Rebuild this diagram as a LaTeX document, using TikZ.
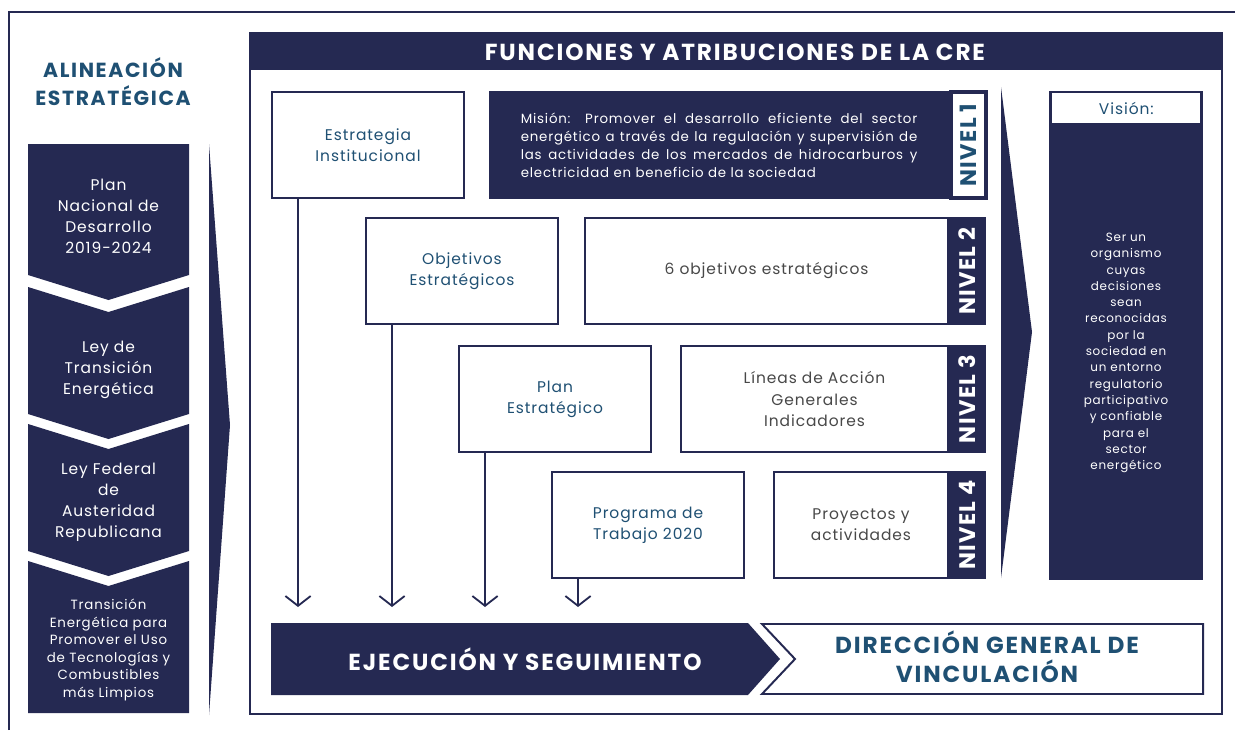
\documentclass[tikz,border=0pt]{standalone}
\usepackage{fontspec}
\setmainfont{Poppins}[LetterSpace=6]
\newfontfamily\headfont{Poppins}[LetterSpace=8]
\usetikzlibrary{arrows.meta}
\definecolor{crenavy}{RGB}{37,41,82}
\definecolor{creteal}{RGB}{31,80,115}
\definecolor{cregray}{RGB}{72,72,72}

\begin{document}
\begin{tikzpicture}[x=0.025cm,y=-0.025cm,
  box/.style={draw=crenavy,line width=1.4pt,fill=white,minimum width=4.8cm,
    minimum height=2.65cm,inner sep=0pt,anchor=north west,align=center},
  keybox/.style={box,text=creteal,font=\fontsize{11}{15}\selectfont},
  infobox/.style={box,text=cregray,font=\fontsize{11}{15}\selectfont,minimum width=#1},
  nivel/.style={rotate=90,anchor=north,minimum width=2.65cm,minimum height=0.875cm,
    inner sep=0pt,fill=crenavy,draw=crenavy,line width=1.4pt,text=white,
    font=\bfseries\fontsize{16}{16}\selectfont},
  chev/.style={text=white,align=center,font=\fontsize{11}{15}\selectfont},
  flow/.style={crenavy,line width=1.3pt,-{Straight Barb[length=7pt,width=18pt]}}]
  \useasboundingbox (0,0) rectangle (1235,730);
  \draw[crenavy,line width=1.2pt]
  (9,730) -- (9,12) -- (1235,12);
  \node[text=creteal,align=center,font=\headfont\bfseries\fontsize{14.5}{20}\selectfont]
  (alin) at (113,82) {ALINEACIÓN\\ESTRATÉGICA};
  \fill[crenavy]
  (28,144) -- (189,144) -- (189,275) -- (108.5,300) -- (28,275) -- cycle
  (28,287) -- (108.5,312) -- (189,287) -- (189,414) -- (108.5,439) -- (28,414) -- cycle
  (28,424) -- (108.5,449) -- (189,424) -- (189,551) -- (108.5,576) -- (28,551) -- cycle
  (28,561) -- (108.5,586) -- (189,561) -- (189,713) -- (28,713) -- cycle;
  \node[chev] (pnd) at (108.5,216) {Plan\\Nacional de\\Desarrollo\\2019-2024};
  \node[chev] (lte) at (108.5,370) {Ley de\\Transición\\Energética};
  \node[chev] (lfar) at (108.5,502) {Ley Federal\\de\\Austeridad\\Republicana};
  \node[chev,font=\fontsize{9.5}{12.4}\selectfont] (tepu) at (108.5,650)
  {Transición\\Energética para\\Promover el Uso\\de Tecnologías y\\Combustibles\\más Limpios};
  \fill[crenavy]
  (209,144) -- (230,425) -- (209,715) -- cycle;
  \draw[crenavy,line width=1.5pt]
  (250,33) rectangle (1222,714);
  \fill[crenavy]
  (250,33) rectangle (1222,70);
  \node[text=white,font=\headfont\bfseries\fontsize{16.5}{16.5}\selectfont]
  (func) at (735,52) {FUNCIONES Y ATRIBUCIONES DE LA CRE};
  \node[keybox] (estr) at (271,91) {Estrategia\\Institucional};
  \node[box,fill=crenavy,minimum width=11.45cm,text=white,text width=282pt,align=justify,
    font=\fontsize{9.5}{12.8}\selectfont] (mision) at (489,91)
  {Misión: Promover el desarrollo eficiente del sector\linebreak energético a través de la regulación y supervisión de\linebreak las actividades de los mercados de hidrocarburos y\linebreak electricidad en beneficio de la sociedad};
  \node[nivel,fill=white,text=creteal,line width=2.8pt] (n1) at (mision.east) {NIVEL 1};
  \node[keybox] (obj) at (365,217) {Objetivos\\Estratégicos};
  \node[infobox=9.075cm] (seis) at (584,217) {6 objetivos estratégicos};
  \node[nivel] (n2) at (seis.east) {NIVEL 2};
  \node[keybox] (plan) at (458,345) {Plan\\Estratégico};
  \node[infobox=6.675cm] (lineas) at (680,345) {Líneas de Acción\\Generales\\Indicadores};
  \node[nivel] (n3) at (lineas.east) {NIVEL 3};
  \node[keybox] (prog) at (551,471) {Programa de\\Trabajo 2020};
  \node[infobox=4.35cm] (proy) at (773,471) {Proyectos y\\actividades};
  \node[nivel] (n4) at (proy.east) {NIVEL 4};
  \coordinate (tip) at (0,607);
  \foreach \n in {estr,obj,plan,prog}
    \draw[flow] ([xshift=0.675cm]\n.south west) -- ([xshift=0.675cm]\n.south west |- tip);
  \fill[crenavy]
  (1001,87) -- (1032,332) -- (1001,578) -- cycle;
  \node[fill=crenavy,minimum width=3.85cm,minimum height=12.225cm,anchor=north west,
    inner sep=0pt] (vision) at (1049,91) {};
  \node[fill=white,minimum width=3.7cm,minimum height=0.75cm,anchor=north,inner sep=0pt,
    text=creteal,font=\fontsize{11}{13}\selectfont] (vistit) at ([yshift=-0.05cm]vision.north) {Visión:};
  \node[text=white,align=center,font=\fontsize{8.5}{11.6}\selectfont] (vistext) at (1126,353)
  {Ser un\\organismo\\cuyas\\decisiones\\sean\\reconocidas\\por la\\sociedad en\\un entorno\\regulatorio\\participativo\\y confiable\\para el\\sector\\energético};
  \fill[crenavy]
  (271,623) -- (748,623) -- (780,659) -- (748,695) -- (271,695) -- cycle;
  \node[text=white,font=\headfont\bfseries\fontsize{16.5}{16.5}\selectfont]
  (ejec) at (525,659) {EJECUCIÓN Y SEGUIMIENTO};
  \draw[crenavy,line width=1.4pt]
  (762,624) -- (1203,624) -- (1203,694) -- (762,694) -- (795,659) -- cycle;
  \node[text=creteal,align=center,font=\headfont\bfseries\fontsize{16.5}{20.6}\selectfont]
  (dir) at (987,657) {DIRECCIÓN GENERAL DE\\VINCULACIÓN};
\end{tikzpicture}
\end{document}
